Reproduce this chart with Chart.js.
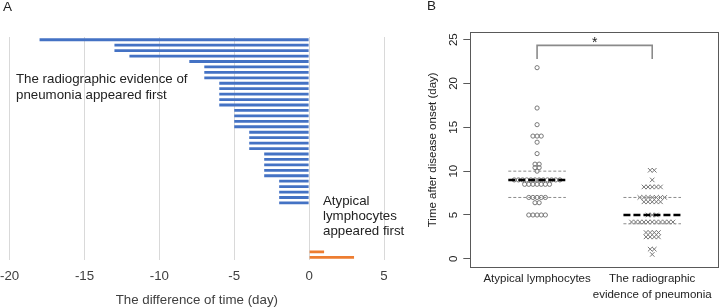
<!DOCTYPE html>
<html lang="en">
<head>
<meta charset="UTF-8">
<title>Atypical lymphocytes vs radiographic evidence of pneumonia</title>
<script src="https://cdn.jsdelivr.net/npm/chart.js@4"></script>
<style>
  body { margin: 0; background: #fff; font-family: "Liberation Sans", Arial, sans-serif; color: #222; }
  #wrap { position: relative; width: 724px; height: 308px; overflow: hidden; }
  #wrap canvas { position: absolute; top: 0; }
  .tag { position: absolute; font-size: 13.5px; }
  .note { position: absolute; font-size: 13.3px; line-height: 16px; white-space: nowrap; }
</style>
</head>
<body>
<div id="wrap">
  <canvas id="chartA" width="395" height="308" style="left:0"></canvas>
  <canvas id="chartB" width="329" height="308" style="left:395px"></canvas>
  <div class="tag" style="left:3px;top:-1px">A</div>
  <div class="tag" style="left:427px;top:-2px">B</div>
  <div class="note" style="left:16px;top:71px">The radiographic evidence of<br>pneumonia appeared first</div>
  <div class="note" style="left:323px;top:193px;line-height:15px">Atypical<br>lymphocytes<br>appeared first</div>
</div>
<script>
// ---- panel A: difference of time (day) for each case
const diffDays = [-18, -13, -13, -12, -8, -7, -7, -7, -6, -6, -6, -6, -6,
  -5, -5, -5, -5, -4, -4, -4, -4, -3, -3, -3, -3, -3, -2, -2, -2, -2, -2,
  0, 0, 0, 0, 0, 0, 0, 0, 1, 3];
const caseLabels = diffDays.map((d, i) => 'case ' + (i + 1));
const diffTicks = [-20, -15, -10, -5, 0, 5];

// ---- panel B: time after disease onset (day)
const groupNames = ['Atypical lymphocytes', ['The radiographic', 'evidence of pneumonia']];
const atypicalDays = [21.8, 17.2, 15.3, 14, 14, 14, 13.3, 12, 10.8, 10.8, 10.4, 10.4, 10,
  9, 9, 9, 9, 9, 9, 9, 9, 9, 9, 9, 9,
  8.5, 8.5, 8.5, 8.5, 8.5, 8.5, 8.5,
  7, 7, 7, 7, 7, 6.4, 6.4, 5, 5, 5, 5, 5];
const radioDays = [10.1, 10.1, 9, 8.2, 8.2, 8.2, 8.2, 8.2,
  7, 7, 7, 7, 7, 7, 7, 6.5, 6.5, 6.5, 6.5, 6.5, 5, 5, 5,
  4.2, 4.2, 4.2, 4.2, 4.2, 4.2, 4.2, 4.2, 4.2, 4.2, 4.2,
  3, 3, 3, 3, 2.5, 2.5, 2.5, 2.5, 1.1, 1.1, 0.5];
const medians = [9, 5];
const upperQ = [10, 7];
const lowerQ = [7, 4];
const dayTicks = [0, 5, 10, 15, 20, 25];
const bracketY = [22.8, 24.35];
const starText = '*';

Chart.defaults.font.family = '"Liberation Sans", Arial, sans-serif';

// lay out equal values side by side like a beeswarm
function swarm(values, center, step) {
  const rows = {};
  values.forEach(v => (rows[v] = rows[v] || []).push(v));
  const pts = [];
  Object.values(rows).forEach(row => {
    row.forEach((v, i) => pts.push({ x: center + (i - (row.length - 1) / 2) * step, y: v }));
  });
  return pts;
}

function segment(pts, color, width, dash) {
  return { data: pts, showLine: true, borderColor: color, borderWidth: width,
    borderDash: dash, pointRadius: 0, fill: false };
}

new Chart(document.getElementById('chartA'), {
  type: 'bar',
  data: {
    labels: caseLabels,
    datasets: [{
      data: diffDays,
      backgroundColor: diffDays.map(d => d > 0 ? '#ED7D31' : '#4472C4'),
      borderWidth: 0,
      barPercentage: 0.52,
      categoryPercentage: 1
    }]
  },
  options: {
    indexAxis: 'y',
    responsive: false,
    animation: false,
    layout: { padding: { top: 37, right: 11, left: 0, bottom: 0 } },
    plugins: { legend: { display: false }, tooltip: { enabled: false } },
    scales: {
      x: {
        type: 'linear', min: -20, max: 5,
        afterBuildTicks: s => { s.ticks = diffTicks.map(v => ({ value: v })); },
        grid: { color: '#d9d9d9', drawTicks: true, tickLength: 8, tickColor: 'rgba(0,0,0,0)' },
        border: { display: false },
        ticks: { padding: 0, color: '#404040', font: { size: 13.3 } },
        title: { display: true, text: 'The difference of time (day)', color: '#404040',
          font: { size: 13.3 }, padding: { top: 8, bottom: 0 } }
      },
      y: { display: false }
    }
  }
});

const framePlugin = {
  id: 'frame',
  afterDatasetsDraw(chart) {
    const { ctx, chartArea: a } = chart;
    ctx.save();
    ctx.strokeStyle = '#595959';
    ctx.lineWidth = 1;
    ctx.strokeRect(Math.round(a.left) + 0.5, Math.round(a.top) + 0.5,
      Math.round(a.width) - 1, Math.round(a.height) - 1);
    ctx.restore();
  }
};

const starPlugin = {
  id: 'star',
  afterDatasetsDraw(chart) {
    const { ctx, scales: { x, y } } = chart;
    ctx.save();
    ctx.fillStyle = '#222';
    ctx.font = '14px "Liberation Sans", Arial, sans-serif';
    ctx.textAlign = 'center';
    ctx.textBaseline = 'middle';
    ctx.fillText(starText, x.getPixelForValue(1.5), y.getPixelForValue(24.6));
    ctx.restore();
  }
};

const step = 0.036;
const half = 0.25;
const datasetsB = [];
medians.forEach((m, i) => datasetsB.push(segment([{ x: i + 1 - half, y: m }, { x: i + 1 + half, y: m }], '#000', 2.5, [7, 3])));
upperQ.forEach((q, i) => datasetsB.push(segment([{ x: i + 1 - half, y: q }, { x: i + 1 + half, y: q }], '#8c8c8c', 1, [3, 2])));
lowerQ.forEach((q, i) => datasetsB.push(segment([{ x: i + 1 - half, y: q }, { x: i + 1 + half, y: q }], '#8c8c8c', 1, [3, 2])));
datasetsB.push(segment([{ x: 1, y: bracketY[0] }, { x: 1, y: bracketY[1] }, { x: 2, y: bracketY[1] }, { x: 2, y: bracketY[0] }], '#8a8a8a', 1.6, []));
datasetsB.push({ data: swarm(atypicalDays, 1, step), pointStyle: 'circle', pointRadius: 2.1,
  borderColor: '#777', backgroundColor: 'rgba(0,0,0,0)', borderWidth: 1 });
datasetsB.push({ data: swarm(radioDays, 2, step), pointStyle: 'crossRot', pointRadius: 3.2,
  borderColor: '#777', borderWidth: 1 });

new Chart(document.getElementById('chartB'), {
  type: 'scatter',
  data: { datasets: datasetsB },
  plugins: [framePlugin, starPlugin],
  options: {
    responsive: false,
    animation: false,
    layout: { padding: { top: 32, right: 1, left: 25.5, bottom: 2.2 } },
    plugins: { legend: { display: false }, tooltip: { enabled: false } },
    scales: {
      x: {
        type: 'linear', min: 0.42, max: 2.58,
        afterBuildTicks: s => { s.ticks = [{ value: 1 }, { value: 2 }]; },
        grid: { display: false, drawTicks: false },
        border: { display: false },
        ticks: { callback: (v, i) => groupNames[i], padding: 3, color: '#222',
          font: { size: 11.5, lineHeight: 1.4 }, maxRotation: 0, autoSkip: false }
      },
      y: {
        type: 'linear', min: -1.0, max: 25.87,
        afterBuildTicks: s => { s.ticks = dayTicks.map(v => ({ value: v })); },
        grid: { drawOnChartArea: false, drawTicks: true, tickLength: 7, tickColor: '#595959' },
        border: { display: false },
        ticks: { minRotation: 90, maxRotation: 90, crossAlign: 'center', padding: 2.6,
          color: '#222', font: { size: 11.5 } },
        title: { display: true, text: 'Time after disease onset (day)', color: '#222',
          font: { size: 11.5 }, padding: { top: 5, bottom: 5 } }
      }
    }
  }
});
</script>
</body>
</html>
